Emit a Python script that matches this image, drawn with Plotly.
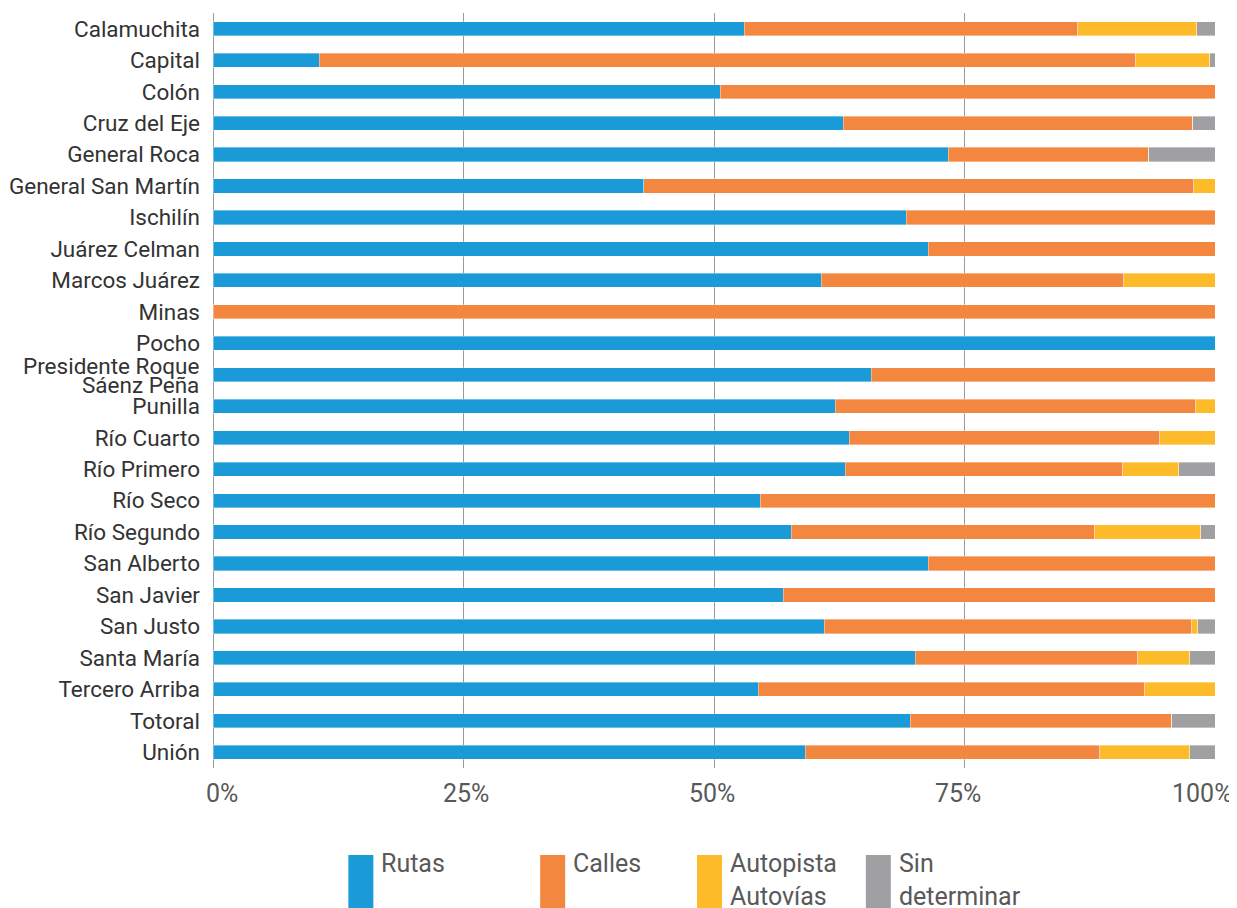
import plotly.graph_objects as go

departamentos = ["Calamuchita", "Capital", "Colón", "Cruz del Eje", "General Roca",
                 "General San Martín", "Ischilín", "Juárez Celman", "Marcos Juárez", "Minas",
                 "Pocho", "Presidente Roque Sáenz Peña", "Punilla", "Río Cuarto", "Río Primero",
                 "Río Seco", "Río Segundo", "San Alberto", "San Javier", "San Justo",
                 "Santa María", "Tercero Arriba", "Totoral", "Unión"]

rutas = [53.0, 10.6, 50.6, 62.9, 73.4, 43.0, 69.2, 71.4, 60.7, 0.0,
         100.0, 65.7, 62.1, 63.5, 63.1, 54.6, 57.7, 71.4, 56.9, 61.0,
         70.1, 54.4, 69.6, 59.1]
calles = [33.3, 81.5, 49.4, 34.9, 20.0, 54.9, 30.8, 28.6, 30.2, 100.0,
          0.0, 34.3, 36.0, 31.0, 27.7, 45.4, 30.3, 28.6, 43.1, 36.7,
          22.2, 38.6, 26.1, 29.4]
autopista = [11.9, 7.4, 0.0, 0.0, 0.0, 2.1, 0.0, 0.0, 9.1, 0.0,
             0.0, 0.0, 1.9, 5.5, 5.6, 0.0, 10.6, 0.0, 0.0, 0.6,
             5.2, 7.0, 0.0, 9.0]
sin_determinar = [1.8, 0.5, 0.0, 2.2, 6.6, 0.0, 0.0, 0.0, 0.0, 0.0,
                  0.0, 0.0, 0.0, 0.0, 3.6, 0.0, 1.4, 0.0, 0.0, 1.7,
                  2.5, 0.0, 4.3, 2.5]

series_names = ["Rutas", "Calles", "Autopista<br>Autovías", "Sin<br>determinar"]
series_values = [rutas, calles, autopista, sin_determinar]
colors = ["#1A9AD6", "#F4873F", "#FDBB2A", "#A0A0A3"]
x_ticks = [0, 25, 50, 75, 100]
x_tick_labels = ["0%", "25%", "50%", "75%", "100%"]
x_tick_shift = [8.5, 2.5, -2, -7, -13.5]

# the page body adds an 8px margin; figure sized so its page position matches
OFF = 8
W, H = 1237 - OFF, 908 - OFF
ML, MR, MT, MB = 212.5 - OFF, 21.5, 13 - OFF, 140

TEXT = "#333333"
GREY_TEXT = "#595959"
LABEL_SIZE = 22.5

fig = go.Figure()
for name, vals, col in zip(series_names, series_values, colors):
    fig.add_trace(go.Bar(
        y=departamentos, x=vals, name=name, orientation="h",
        marker=dict(color=col, line=dict(color="rgba(255,255,255,0.6)", width=0.6)),
        showlegend=False,
    ))

def px_to_paper_x(px):
    return (px - OFF - ML) / (W - ML - MR)

def px_to_paper_y(py):
    return (H - MB - (py - OFF)) / (H - MT - MB)

shapes = []
annotations = []

# custom legend (tall swatches, text to the right)
legend_x = [348, 540, 697, 866]
for name, col, lx in zip(series_names, colors, legend_x):
    shapes.append(dict(type="rect", xref="paper", yref="paper",
                       x0=px_to_paper_x(lx), x1=px_to_paper_x(lx + 25),
                       y0=px_to_paper_y(855), y1=px_to_paper_y(912),
                       fillcolor=col, line=dict(width=0), layer="above"))
    annotations.append(dict(xref="paper", yref="paper",
                            x=px_to_paper_x(lx + 31), y=px_to_paper_y(847),
                            xanchor="left", yanchor="top", align="left",
                            text=name, showarrow=False,
                            font=dict(family="Roboto", size=25, color=GREY_TEXT)))

# x tick labels
for v, lab, sh in zip(x_ticks, x_tick_labels, x_tick_shift):
    annotations.append(dict(xref="x", yref="paper", x=v, y=px_to_paper_y(793),
                            xanchor="center", yanchor="middle", xshift=sh,
                            text=lab, showarrow=False,
                            font=dict(family="Roboto", size=25, color=GREY_TEXT)))

# y tick labels: two-line label drawn tight like the reference
y_tick_text = []
for d in departamentos:
    if d == "Presidente Roque Sáenz Peña":
        y_tick_text.append("")
        for line, ys in (("Presidente Roque", 9), ("Sáenz Peña", -10)):
            annotations.append(dict(xref="paper", yref="y", x=0, y=d,
                                    xanchor="right", yanchor="middle",
                                    xshift=-12, yshift=ys, text=line, showarrow=False,
                                    font=dict(family="Roboto", size=LABEL_SIZE, color=TEXT)))
    else:
        y_tick_text.append(d)

fig.update_layout(
    width=W, height=H,
    margin=dict(l=ML, r=MR, t=MT, b=MB, autoexpand=False),
    barmode="stack", bargap=0.55,
    plot_bgcolor="white", paper_bgcolor="white",
    font=dict(family="Roboto", color=TEXT),
    shapes=shapes, annotations=annotations,
)
fig.update_xaxes(range=[0, 100], tickmode="array", tickvals=x_ticks,
                 showticklabels=False,
                 showgrid=True, gridcolor="#9a9a9a", gridwidth=1,
                 zeroline=True, zerolinecolor="#9a9a9a", zerolinewidth=1,
                 showline=False, ticks="", automargin=False)
fig.update_yaxes(autorange="reversed", showgrid=False, ticks="",
                 tickmode="array", tickvals=departamentos, ticktext=y_tick_text,
                 ticklabelstandoff=12, automargin=False,
                 tickfont=dict(family="Roboto", size=LABEL_SIZE, color=TEXT))

fig.write_html("out.html")
